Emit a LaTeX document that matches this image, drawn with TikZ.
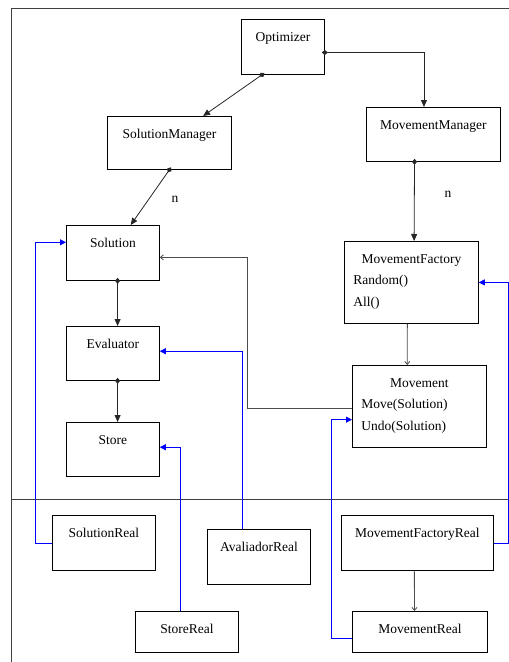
\documentclass[tikz,border=0pt]{standalone}
\usepackage{fontspec}
\setmainfont{Liberation Serif}
\usetikzlibrary{positioning}
\usetikzlibrary{calc}
\usetikzlibrary{arrows.meta}

\begin{document}
\begin{tikzpicture}
        [
            x=1pt, y=-1pt,
            every node/.style={font=\fontsize{13.5}{21.5}\selectfont},
            class/.style={rectangle, draw, line width=0.8pt, anchor=north west, inner xsep=9pt, inner ysep=0pt, text height=22pt},
            owns/.style={draw=black!85, line width=0.8pt, {Diamond[length=6pt,width=5pt]}-{Triangle[length=7pt,width=6pt]}, shorten <=-3pt},
            uses/.style={draw=black!70, line width=0.8pt, -{Straight Barb[length=3pt,width=5pt]}},
            impl/.style={draw=blue, line width=0.8pt, -{Triangle[length=6pt,width=6pt]}}
        ]
        \useasboundingbox (0,0) rectangle (509,662);
        %frame
        \draw[line width=0.8pt, black!75] (509,8) -- (11,8) -- (11,662);
        \draw[line width=0.8pt, black!75] (11,499) -- (509,499);
        %nodes
        \node[class, minimum width=83pt, text depth=33pt] at (241,19)   (optimizer)        {Optimizer};
        \node[class, minimum width=124pt, text depth=31pt] at (107,116) (sol_manager)      {SolutionManager};
        \node[class, minimum width=134pt, text depth=32pt] at (366,107) (mov_manager)      {MovementManager};
        \node[class, minimum width=93pt, text depth=33pt] at (66,225)   (solution)         {Solution};
        \node[class, minimum width=93pt, text depth=32pt] at (66,326)   (evaluator)        {Evaluator};
        \node[class, minimum width=93pt, text depth=32pt] at (66,422)   (store)            {Store};
        \node[class, text width=116pt, align=left, text depth=60pt] at (344,241) (mov_factory)
            {\makebox[\linewidth]{MovementFactory}\\Random()\\All()};
        \node[class, text width=116pt, align=left, text depth=60pt] at (352,365) (movement)
            {\makebox[\linewidth]{Movement}\\Move(Solution)\\Undo(Solution)};
        \node[class, minimum width=103pt, text depth=33pt] at (52,515)  (solution_real)    {SolutionReal};
        \node[class, minimum width=103pt, text depth=33pt] at (207,529) (avaliador_real)   {AvaliadorReal};
        \node[class, minimum width=152pt, text depth=33pt] at (341,515) (mov_factory_real) {MovementFactoryReal};
        \node[class, minimum width=103pt, text depth=19pt] at (135,611) (store_real)       {StoreReal};
        \node[class, minimum width=135pt, text depth=19pt] at (352,611) (mov_real)         {MovementReal};
        \node at (175,199) (n_solutions) {n};
        \node at (448,194) (n_movements) {n};
        %arrows
        \draw[owns] ($(optimizer.south west)!0.25!(optimizer.south east)$) -- ($(sol_manager.north west)!0.77!(sol_manager.north east)$);
        \draw[owns] ($(optimizer.north east)!0.6!(optimizer.south east)$) -| ($(mov_manager.north west)!0.43!(mov_manager.north east)$);
        \draw[owns] (sol_manager.south) -- ($(solution.north west)!0.69!(solution.north east)$);
        \draw[owns] ($(mov_manager.south west)!0.36!(mov_manager.south east)$) -- ($(mov_factory.north west)!0.52!(mov_factory.north east)$);
        \draw[owns] ($(solution.south west)!0.55!(solution.south east)$) -- ($(evaluator.north west)!0.55!(evaluator.north east)$);
        \draw[owns] ($(evaluator.south west)!0.55!(evaluator.south east)$) -- ($(store.north west)!0.55!(store.north east)$);
        \draw[uses] ($(movement.north west)!0.52!(movement.south west)$) -- ++(-105,0) |- ($(solution.north east)!0.58!(solution.south east)$);
        \draw[uses] ($(mov_factory.south west)!0.47!(mov_factory.south east)$) -- ($(movement.north west)!0.41!(movement.north east)$);
        \draw[uses] ($(mov_factory_real.south west)!0.48!(mov_factory_real.south east)$) -- ($(mov_real.north west)!0.46!(mov_real.north east)$);
        \draw[impl] (solution_real.west) -- ++(-17,0) |- ($(solution.north west)!0.31!(solution.south west)$);
        \draw[impl] ($(avaliador_real.north west)!0.34!(avaliador_real.north east)$) |- ($(evaluator.north east)!0.46!(evaluator.south east)$);
        \draw[impl] ($(store_real.north west)!0.44!(store_real.north east)$) |- ($(store.north east)!0.46!(store.south east)$);
        \draw[impl] ($(mov_real.north west)!0.66!(mov_real.south west)$) -- ++(-21,0) |- ($(movement.north west)!0.66!(movement.south west)$);
        \draw[impl] (mov_factory_real.east) -- ++(15,0) |- (mov_factory.east);
    \end{tikzpicture}
\end{document}
